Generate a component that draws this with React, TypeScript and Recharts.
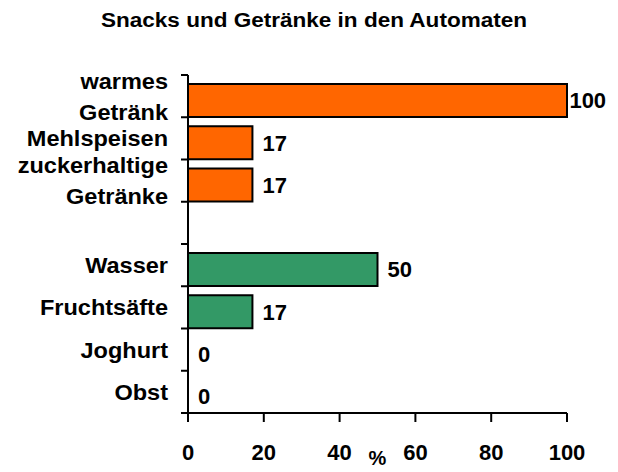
import React from 'react';
import { BarChart, Bar, XAxis, YAxis, Cell, LabelList, Rectangle } from 'recharts';

const categories = [
  'warmes\nGetränk',
  'Mehlspeisen',
  'zuckerhaltige\nGetränke',
  '',
  'Wasser',
  'Fruchtsäfte',
  'Joghurt',
  'Obst',
];
const values = [100, 17, 17, null, 50, 17, 0, 0];
const groups = ['snack', 'snack', 'snack', null, 'healthy', 'healthy', 'healthy', 'healthy'];
const xTicks = [0, 20, 40, 60, 80, 100];

const GROUP_COLORS: Record<string, string> = {
  snack: '#ff6600',
  healthy: '#339966',
};

const FONT = '"Liberation Sans", Arial, sans-serif';
const W = 618;
const H = 472;
const BAR_SHIFT = 4; // bars sit low in their band
const LABEL_STRETCH = 1.07; // the original's text is a bit wide

const chartData = categories.map((name, i) => ({
  name,
  value: values[i],
  group: groups[i],
}));

function CategoryTick(props: any) {
  const { x, y, payload, index, visibleTicksCount } = props;
  const half = payload.offset ?? 21;
  const axisX = x + 20;
  const lines = String(payload.value).split('\n');
  const lineGap = 31;
  const first = -((lines.length - 1) * lineGap) / 2;
  return (
    <g>
      <line x1={axisX - 7} x2={axisX} y1={y - half} y2={y - half} stroke="#000" strokeWidth={2} />
      {index === visibleTicksCount - 1 && (
        <line x1={axisX - 7} x2={axisX} y1={y + half} y2={y + half} stroke="#000" strokeWidth={2} />
      )}
      <text
        transform={`translate(${x},0) scale(${LABEL_STRETCH},1)`}
        textAnchor="end"
        fontFamily={FONT}
        fontWeight="bold"
        fontSize={22}
        fill="#000"
      >
        {lines.map((l, i) => (
          <tspan key={i} x={0} y={y + first + i * lineGap} dy="0.36em">
            {l}
          </tspan>
        ))}
      </text>
    </g>
  );
}

function ValueLabel(props: any) {
  const { x, y, width, height, value } = props;
  if (value === null || value === undefined) return null;
  const txt = String(value);
  const tw = txt.length * 12.2;
  const lx = Math.min(x + width + 10, W - 12 - tw);
  return (
    <text
      x={lx}
      y={y + height / 2 + BAR_SHIFT}
      dy="0.36em"
      fontFamily={FONT}
      fontWeight="bold"
      fontSize={22}
      fill="#000"
    >
      {txt}
    </text>
  );
}

function PercentLabel(props: any) {
  const { viewBox } = props;
  return (
    <text
      x={viewBox.x + viewBox.width / 2}
      y={viewBox.y + 52}
      textAnchor="middle"
      fontFamily={FONT}
      fontWeight="bold"
      fontSize={20}
      fill="#000"
    >
      %
    </text>
  );
}

export default function App() {
  return (
    <div style={{ position: 'absolute', left: 0, top: 0, width: W, height: H, background: '#fff' }}>
      <svg width={W} height={40} style={{ position: 'absolute', left: 0, top: 0 }}>
        <text
          x={314}
          y={27}
          textAnchor="middle"
          textLength={426}
          lengthAdjust="spacingAndGlyphs"
          fontFamily={FONT}
          fontWeight="bold"
          fontSize={20}
          fill="#000"
        >
          Snacks und Getränke in den Automaten
        </text>
      </svg>
      <BarChart
        width={W}
        height={H}
        data={chartData}
        layout="vertical"
        margin={{ top: 75, right: 51, bottom: 0, left: 0 }}
        barSize={33}
      >
        <XAxis
          type="number"
          domain={[0, 100]}
          ticks={xTicks}
          height={59}
          axisLine={{ stroke: '#000', strokeWidth: 2 }}
          tickLine={{ stroke: '#000', strokeWidth: 2 }}
          tickSize={9}
          tickMargin={22}
          tick={{ fill: '#000', fontSize: 22, fontWeight: 'bold', fontFamily: FONT }}
          label={<PercentLabel />}
        />
        <YAxis
          type="category"
          dataKey="name"
          width={188}
          axisLine={{ stroke: '#000', strokeWidth: 2 }}
          tickLine={false}
          tickSize={7}
          tickMargin={13}
          interval={0}
          tick={<CategoryTick />}
        />
        <Bar
          dataKey="value"
          isAnimationActive={false}
          stroke="#000"
          strokeWidth={2}
          shape={(p: any) => <Rectangle {...p} y={p.y + BAR_SHIFT} />}
        >
          {chartData.map((d, i) => (
            <Cell key={i} fill={d.group ? GROUP_COLORS[d.group] : 'none'} />
          ))}
          <LabelList dataKey="value" content={<ValueLabel />} />
        </Bar>
      </BarChart>
    </div>
  );
}
